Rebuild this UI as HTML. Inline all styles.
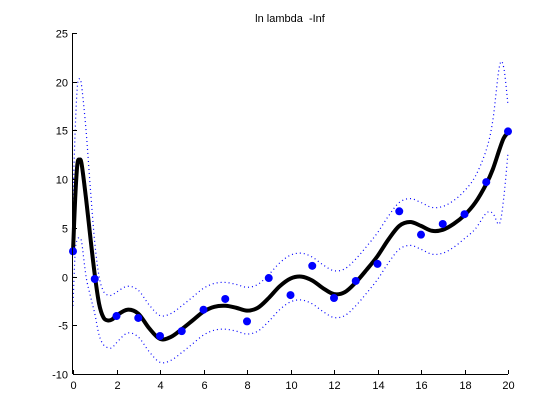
<!DOCTYPE html>
<html><head><meta charset="utf-8"><style>
body{margin:0;background:#fff;}
svg{display:block;font-family:"Liberation Sans",sans-serif;}
</style></head><body>
<svg id="chart" width="560" height="420" xmlns="http://www.w3.org/2000/svg">
<rect x="0" y="0" width="560" height="420" fill="#fff"/>
<text x="290" y="22" font-size="11" text-anchor="middle" style="white-space:pre">ln lambda  -Inf</text>
<g id="bands"></g><g id="fit"></g><g id="pts"></g><g id="axes"></g>
</svg>
<script>
const xTicks=[0,2,4,6,8,10,12,14,16,18,20];
const yTicks=[-10,-5,0,5,10,15,20,25];
const dataX=[0,1,2,3,4,5,6,7,8,9,10,11,12,13,14,15,16,17,18,19,20];
const dataY=[2.6,-0.25,-4.05,-4.25,-6.1,-5.6,-3.4,-2.3,-4.6,-0.15,-1.9,1.1,-2.2,-0.45,1.3,6.7,4.3,5.4,6.4,9.7,14.9];
const fitX=[0,0.1,0.2,0.3,0.4,0.6,0.8,1.0,1.2,1.4,1.6,1.8,2,2.5,3,3.5,4,4.5,5,5.5,6,6.5,7,7.5,8,8.5,9,9.5,10,10.5,11,11.5,12,12.5,13,13.5,14,14.5,15,15.5,16,16.5,17,17.5,18,18.5,19,19.3,19.6,19.8,20];
const fitY=[2.5,8,11.5,12,11.5,8,4,0.2,-2.8,-4.2,-4.5,-4.4,-4.0,-3.4,-3.8,-5.3,-6.4,-6.2,-5.4,-4.5,-3.6,-3.1,-3.0,-3.2,-3.5,-3.2,-2.2,-1.0,-0.2,0.0,-0.4,-1.2,-1.8,-1.6,-0.6,0.7,2.1,3.8,5.2,5.6,5.2,4.7,4.8,5.4,6.3,7.6,9.5,11,13,14.2,14.8];
const upperY=[8,15,19.5,20.3,19.5,15,9,3.5,0,-1.5,-1.9,-1.9,-1.6,-1.0,-1.4,-2.9,-4.0,-3.8,-3.0,-2.1,-1.2,-0.7,-0.6,-0.8,-1.1,-0.8,0.2,1.4,2.2,2.4,2.0,1.2,0.6,0.8,1.8,3.1,4.5,6.2,7.6,8.0,7.6,7.1,7.2,7.8,8.8,10.3,13,16,21.5,21.5,17.6];
const lowerY=[-3,2.5,3.8,3.9,3.5,0,-2,-3.8,-6,-7,-7.3,-7.3,-6.8,-5.8,-6.2,-7.7,-8.8,-8.6,-7.8,-6.9,-6.0,-5.5,-5.4,-5.6,-5.9,-5.6,-4.6,-3.4,-2.6,-2.4,-2.8,-3.6,-4.2,-4.0,-3.0,-1.7,-0.3,1.4,2.8,3.2,2.8,2.3,2.4,3.0,3.9,4.9,6.5,6.5,5.4,8,12.7];

const X0=73,X1=508,Y0=374,Y1=33;
const sx=v=>X0+(v-0)/20*(X1-X0);
const sy=v=>Y0-(v+10)/35*(Y0-Y1);
const NS="http://www.w3.org/2000/svg";
function mk(t,a,p){const e=document.createElementNS(NS,t);for(const k in a)e.setAttribute(k,a[k]);p.appendChild(e);return e;}
function pathOf(xs,ys){
  const P=xs.map((x,i)=>[sx(x),sy(ys[i])]);
  let d=`M${P[0][0]},${P[0][1]}`;
  for(let i=0;i<P.length-1;i++){
    const p0=P[i-1]||P[i],p1=P[i],p2=P[i+1],p3=P[i+2]||P[i+1];
    d+=` C${p1[0]+(p2[0]-p0[0])/6},${p1[1]+(p2[1]-p0[1])/6} ${p2[0]-(p3[0]-p1[0])/6},${p2[1]-(p3[1]-p1[1])/6} ${p2[0]},${p2[1]}`;
  }
  return d;
}
const bands=document.getElementById('bands');
const up=mk('path',{d:pathOf(fitX,upperY),fill:'none',stroke:'#0000ff','stroke-width':1.2,'stroke-dasharray':'1 3'},bands);


const lo=mk('path',{d:pathOf(fitX,lowerY),fill:'none',stroke:'#0000ff','stroke-width':1.2,'stroke-dasharray':'1 3'},bands);


const fit=mk('path',{d:pathOf(fitX,fitY),fill:'none',stroke:'#000','stroke-width':4,'stroke-linejoin':'round'},document.getElementById('fit'));


const pts=document.getElementById('pts');
dataX.forEach((x,i)=>{
  const c=mk('circle',{cx:sx(x),cy:sy(dataY[i]),r:4,fill:'#0000ff'},pts);
  
  
});
const ax=document.getElementById('axes');
const xa=mk('line',{x1:X0,y1:Y0+0.5,x2:X1,y2:Y0+0.5,stroke:'#000'},ax);


const ya=mk('line',{x1:X0-0.5,y1:Y1,x2:X0-0.5,y2:Y0,stroke:'#000'},ax);


xTicks.forEach(t=>{
  const x=Math.round(sx(t))+0.5;
  mk('line',{x1:x,y1:Y0,x2:x,y2:Y0-4,stroke:'#000'},ax);
  const l=mk('text',{x:x,y:Y0+15,'font-size':11,'text-anchor':'middle'},ax);
  l.textContent=t;
  
  
});
yTicks.forEach(t=>{
  const y=Math.round(sy(t))+0.5;
  mk('line',{x1:X0,y1:y,x2:X0+4,y2:y,stroke:'#000'},ax);
  const l=mk('text',{x:X0-5,y:y+4,'font-size':11,'text-anchor':'end'},ax);
  l.textContent=t;
  
  
});
</script>
</body></html>
